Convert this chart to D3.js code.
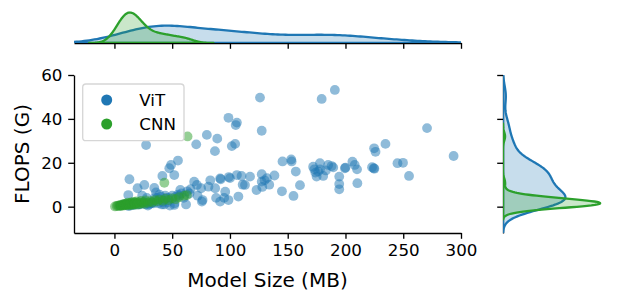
<!DOCTYPE html>
<html>
<head>
<meta charset="utf-8">
<script src="https://cdn.jsdelivr.net/npm/d3@7"></script>
<style>
body { margin: 0; background: #fff; }
svg { display: block; font-family: 'DejaVu Sans', sans-serif; }
</style>
</head>
<body>
<svg id="chart" width="617" height="302"></svg>
<script>
// ViT models: size (MB) and FLOPS (G)
let vitSize = [126, 179.4, 190.8, 98.7, 106, 105, 127.5, 80, 89, 70.8, 104.5, 101.6, 87, 27.4, 270.6, 293.6, 234.6, 224.8,
  145.5, 153.4, 157, 138.5, 160.6, 145, 155, 172, 177.9, 176.4, 180.7, 175, 188, 189.4, 178, 174, 194.6, 194.6, 194.6,
  199.5, 200, 206, 210, 210.3, 224.5, 225, 245, 249.8, 255, 208, 183, 185, 173, 223, 153, 226,
  55, 49, 47.5, 41.5, 51.8, 13, 25.9, 34.5, 20, 69, 75, 76.3, 12, 51.8, 57, 66,
  75.7, 91.5, 98.7, 107.3, 123, 127.5, 127.5, 117.4, 106, 91.5, 81.4, 71.4, 113, 95.9, 87.2,
  130, 132, 100, 110, 88, 95, 128, 134, 83, 111, 92, 99,
  5, 8, 10, 15, 18, 22, 25, 28, 30, 33, 35, 38, 40, 42, 45, 48, 50, 52, 55, 60, 62, 65, 44, 36, 30, 16.7, 24, 72,
  12, 17, 21, 26, 29, 32, 37, 41, 46, 53, 58, 63, 14, 19, 27, 34, 39, 43, 47, 56];
let vitFlops = [49.7, 49.1, 53.2, 40.5, 38.3, 37.2, 34.6, 32.7, 31, 28.4, 28.6, 27.6, 25.3, 28.1, 35.8, 23.1, 28.6, 26.6,
  20.6, 20.6, 16, 14.2, 9.8, 7, 4.9, 18.2, 19.8, 16, 14, 13.7, 18.5, 17.9, 17, 15.5, 13.7, 10.3, 7.9,
  17.5, 17.8, 20.5, 17, 10.7, 17.5, 17.3, 19.8, 20, 14, 19, 16.5, 19, 17, 18, 21.5, 25,
  21, 19, 17.5, 14, 14.4, 12.5, 9.9, 8.5, 8.4, 11.4, 8.4, 3, 5.3, 0.8, 7.6, 8,
  2.3, 2.3, 3, 4.6, 7.6, 11.4, 14.8, 13.7, 14.4, 12.9, 9.1, 9.9, 9.9, 6.8, 8.4,
  12, 13, 13, 14, 4, 4, 9, 10, 12, 10, 12.5, 13.5,
  0.5, 1, 1, 1.5, 2, 1, 1.5, 4, 1, 2, 4, 1.5, 4.5, 2, 4, 0.5, 5, 1.5, 5.5, 4, 1, 6, 5, 6.5, 1.5, 1, 5, 5,
  0.3, 0.8, 1, 2, 0.5, 1.5, 4, 1, 2, 4.5, 6, 7, 0.5, 1.5, 1, 1.5, 5.5, 1, 4, 5];

// CNN models
let cnnSize = [0.5, 2, 3, 4, 5, 5.5, 6, 7, 7.5, 8, 8.5, 9, 9.5, 10, 10.5, 11, 11.5, 12, 12.5, 13, 13.5, 14, 14.5, 15,
  15.5, 16, 16.5, 17, 17.5, 18, 19, 19.5, 20, 21, 22, 23, 24, 25, 26, 27, 29, 31, 33, 35, 37, 39, 42, 44, 47, 50,
  53, 56, 60.5, 62.8, 43.2, 63.3];
let cnnFlops = [0.1, 0.3, 0.5, 0.4, 0.8, 0.3, 0.6, 1.0, 0.5, 0.8, 1.2, 0.6, 1.0, 1.4, 0.7, 1.1, 1.8, 0.9, 1.3, 0.6, 1.6,
  1.0, 2.0, 1.2, 0.8, 1.5, 2.2, 1.0, 1.7, 1.3, 2.4, 0.9, 1.6, 2.0, 1.2, 2.6, 1.6, 2.1, 1.3, 2.8, 1.8, 2.5, 2.0, 3.0,
  2.4, 3.2, 2.7, 3.6, 3.0, 3.8, 3.4, 4.3, 5.0, 5.3, 10.9, 32];

let seriesNames = ['ViT', 'CNN'];
let colors = ['#1f77b4', '#2ca02c'];
let xTicks = [0, 50, 100, 150, 200, 250, 300];
let yTicks = [0, 20, 40, 60];

// layout (px)
let mainBox = { left: 74, right: 461, top: 75, bottom: 233 };
let topBox = { top: 11, bottom: 43 };
let sideBox = { left: 503, right: 605 };

let svg = d3.select('#chart');

let xScale = d3.scaleLinear().domain([-35, 300]).range([mainBox.left, mainBox.right]);
let yScale = d3.scaleLinear().domain([-12, 60]).range([mainBox.bottom, mainBox.top]);

let groups = [
  { name: seriesNames[0], color: colors[0], xs: vitSize, ys: vitFlops },
  { name: seriesNames[1], color: colors[1], xs: cnnSize, ys: cnnFlops }
];
let total = vitSize.length + cnnSize.length;

// gaussian kde, scott bandwidth, cut = 3, weighted by group share
let kde = (vals) => {
  let n = vals.length;
  let bw = d3.deviation(vals) * Math.pow(n, -0.2);
  let lo = d3.min(vals) - 3 * bw, hi = d3.max(vals) + 3 * bw;
  return d3.range(200).map(i => {
    let g = lo + (hi - lo) * i / 199;
    let dens = d3.sum(vals, v => Math.exp(-0.5 * ((g - v) / bw) ** 2)) / (n * bw * Math.sqrt(2 * Math.PI));
    return [g, dens * n / total];
  });
};

groups.forEach(g => {
  g.kx = kde(g.xs);
  g.ky = kde(g.ys);
});

let topMax = d3.max(groups, g => d3.max(g.kx, d => d[1]));
let sideMax = d3.max(groups, g => d3.max(g.ky, d => d[1]));
let topY = d3.scaleLinear().domain([0, topMax * 1.05]).range([topBox.bottom, topBox.top]);
let sideX = d3.scaleLinear().domain([0, sideMax * 1.05]).range([sideBox.left, sideBox.right]);

let styleAxis = (g) => {
  g.select('.domain').attr('stroke', '#000').attr('stroke-width', 1.33);
  g.selectAll('.tick line').attr('stroke', '#000').attr('stroke-width', 1.33);
  g.selectAll('.tick text').attr('fill', '#000').style('font-size', '16.7px').style('font-family', 'DejaVu Sans');
};

// clip paths
let defs = svg.append('defs');
defs.append('clipPath').attr('id', 'clip-top').append('rect')
  .attr('x', mainBox.left).attr('y', topBox.top).attr('width', mainBox.right - mainBox.left).attr('height', topBox.bottom - topBox.top);
defs.append('clipPath').attr('id', 'clip-side').append('rect')
  .attr('x', sideBox.left).attr('y', mainBox.top).attr('width', sideBox.right - sideBox.left).attr('height', mainBox.bottom - mainBox.top);
defs.append('clipPath').attr('id', 'clip-main').append('rect')
  .attr('x', mainBox.left).attr('y', mainBox.top).attr('width', mainBox.right - mainBox.left).attr('height', mainBox.bottom - mainBox.top);

// main axes
svg.append('g')
  .attr('transform', 'translate(0,' + mainBox.bottom + ')')
  .call(d3.axisBottom(xScale).tickValues(xTicks).tickSize(5.8).tickPadding(5.8).tickSizeOuter(0))
  .call(styleAxis);
svg.append('g')
  .attr('transform', 'translate(' + mainBox.left + ',0)')
  .call(d3.axisLeft(yScale).tickValues(yTicks).tickSize(5.8).tickPadding(5.8).tickSizeOuter(0))
  .call(styleAxis);

// top marginal axis
svg.append('g')
  .attr('transform', 'translate(0,' + topBox.bottom + ')')
  .call(d3.axisBottom(xScale).tickValues(xTicks).tickFormat('').tickSize(5.8).tickSizeOuter(0))
  .call(styleAxis);

// side marginal axis
svg.append('g')
  .attr('transform', 'translate(' + sideBox.left + ',0)')
  .call(d3.axisLeft(yScale).tickValues(yTicks).tickFormat('').tickSize(5.8).tickSizeOuter(0))
  .call(styleAxis);

// scatter
let dots = svg.append('g').attr('clip-path', 'url(#clip-main)');
groups.forEach(g => {
  dots.selectAll(null)
    .data(g.xs.map((x, i) => [x, g.ys[i]]))
    .enter()
    .append('circle')
    .attr('cx', d => xScale(d[0]))
    .attr('cy', d => yScale(d[1]))
    .attr('r', 4.9)
    .attr('fill', g.color)
    .attr('fill-opacity', 0.5);
});

// marginal kdes
let topArea = d3.area().x(d => xScale(d[0])).y0(topY(0)).y1(d => topY(d[1]));
let sideArea = d3.area().y(d => yScale(d[0])).x0(sideX(0)).x1(d => sideX(d[1]));

let topG = svg.append('g').attr('clip-path', 'url(#clip-top)');
let sideG = svg.append('g').attr('clip-path', 'url(#clip-side)');
groups.forEach(g => {
  topG.append('path')
    .attr('d', topArea(g.kx))
    .attr('fill', g.color).attr('fill-opacity', 0.25)
    .attr('stroke', g.color).attr('stroke-width', 2.3).attr('stroke-linejoin', 'round');
  sideG.append('path')
    .attr('d', sideArea(g.ky))
    .attr('fill', g.color).attr('fill-opacity', 0.25)
    .attr('stroke', g.color).attr('stroke-width', 2.3).attr('stroke-linejoin', 'round');
});

// axis labels
svg.append('text')
  .attr('x', (mainBox.left + mainBox.right) / 2)
  .attr('y', 287)
  .attr('text-anchor', 'middle')
  .style('font-size', '20px')
  .text('Model Size (MB)');

svg.append('text')
  .attr('transform', 'translate(29,' + ((mainBox.top + mainBox.bottom) / 2) + ') rotate(-90)')
  .attr('text-anchor', 'middle')
  .style('font-size', '20px')
  .text('FLOPS (G)');

// legend
let legend = svg.append('g');
legend.append('rect')
  .attr('x', 82.7).attr('y', 84).attr('width', 101.3).attr('height', 56.7)
  .attr('rx', 3.3)
  .attr('fill', '#fff').attr('fill-opacity', 0.8)
  .attr('stroke', '#d6d6d6').attr('stroke-width', 1.33);
groups.forEach((g, i) => {
  legend.append('circle')
    .attr('cx', 106.7).attr('cy', 100 + i * 24)
    .attr('r', 5.5)
    .attr('fill', g.color);
  legend.append('text')
    .attr('x', 139.3).attr('y', 105.8 + i * 24)
    .style('font-size', '16.7px')
    .text(g.name);
});
</script>
</body>
</html>
